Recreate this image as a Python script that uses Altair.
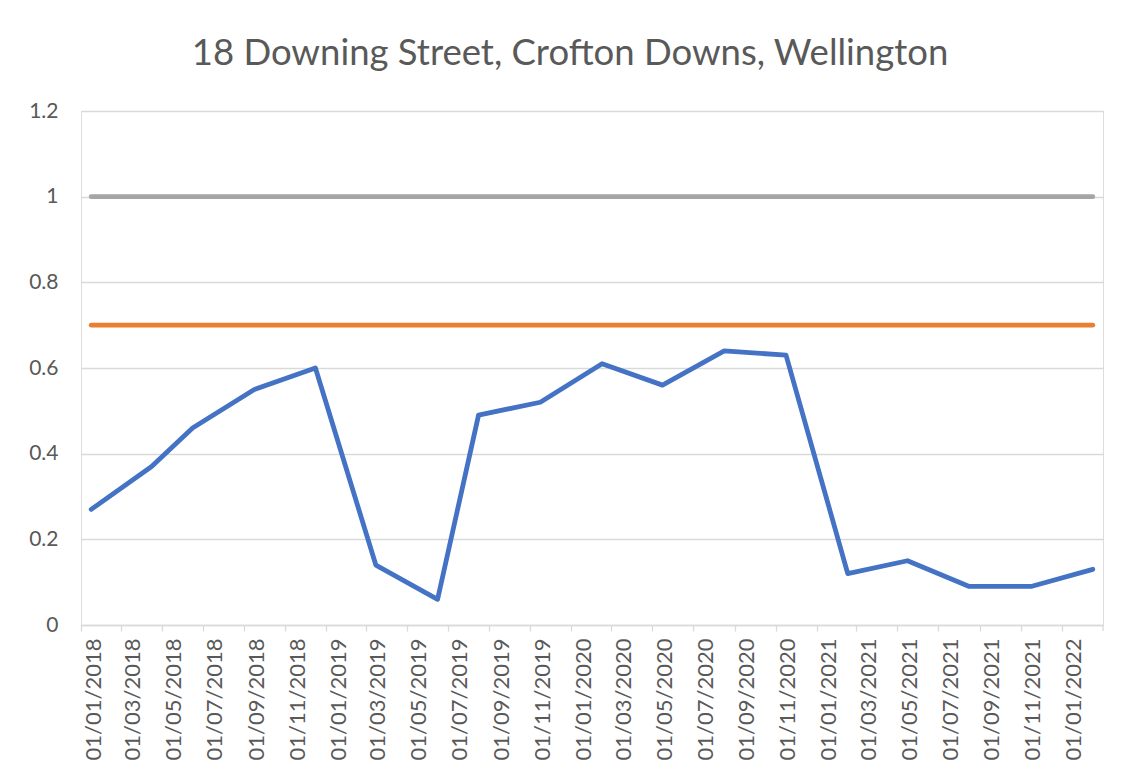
import altair as alt
import pandas as pd

# ---- data ----
dates = ["2018-01-01", "2018-04-01", "2018-06-01", "2018-09-01", "2018-12-01",
         "2019-03-01", "2019-06-01", "2019-08-01", "2019-11-01", "2020-02-01",
         "2020-05-01", "2020-08-01", "2020-11-01", "2021-02-01", "2021-05-01",
         "2021-08-01", "2021-11-01", "2022-02-01"]
measured = [0.27, 0.37, 0.46, 0.55, 0.60, 0.14, 0.06, 0.49, 0.52, 0.61,
            0.56, 0.64, 0.63, 0.12, 0.15, 0.09, 0.09, 0.13]
lower_limit = [0.7] * len(dates)
upper_limit = [1.0] * len(dates)

series_names = ["Upper", "Lower", "Measured"]
series_colors = ["#A5A5A5", "#ED7D31", "#4472C4"]

tick_dates = [(y, m) for y in range(2018, 2022) for m in (1, 3, 5, 7, 9, 11)] + [(2022, 1)]
y_ticks = [0, 0.2, 0.4, 0.6, 0.8, 1.0, 1.2]

rows = []
for name, vals in zip(series_names, [upper_limit, lower_limit, measured]):
    for d, v in zip(dates, vals):
        rows.append({"date": d + "T00:00:00", "value": v, "series": name})
df = pd.DataFrame(rows)

W, H = 1022, 514
label_color = "#595959"
grid_color = "#D9D9D9"
FONT = "Lato"

x_scale = alt.Scale(domain=[alt.DateTime(year=2017, month=12, date=16, hours=19),
                            alt.DateTime(year=2022, month=2, date=16, hours=5)])

lines = alt.Chart(df).mark_line(strokeWidth=4.8, strokeCap="round", strokeJoin="round").encode(
    x=alt.X("date:T", scale=x_scale, title=None,
            axis=alt.Axis(values=[alt.DateTime(year=y, month=m, date=1) for y, m in tick_dates],
                          format="%d/%m/%Y", labelAngle=-90, labelAlign="right",
                          labelBaseline="middle", labelColor=label_color, labelFont=FONT,
                          labelFontSize=22, labelPadding=7, tickOffset=-10.2, labelOffset=12,
                          tickColor=grid_color, tickSize=6, tickWidth=1.3,
                          domainColor=grid_color, domainWidth=1.3, grid=False,
                          labelOverlap=False, labelFlush=False)),
    y=alt.Y("value:Q", scale=alt.Scale(domain=[0, 1.2], nice=False), title=None,
            axis=alt.Axis(values=y_ticks, format="~g", domain=False, ticks=False,
                          gridColor=grid_color, gridWidth=1.3, labelColor=label_color,
                          labelFont=FONT, labelFontSize=21, labelPadding=23)),
    color=alt.Color("series:N", scale=alt.Scale(domain=series_names, range=series_colors),
                    legend=None),
    order=alt.Order("series:N"),
    detail="series:N",
)

end_tick = alt.Chart(pd.DataFrame({"k": [0]})).mark_rule(color=grid_color, strokeWidth=1.3).encode(
    x=alt.value(W), y=alt.value(H), y2=alt.value(H + 6))

chart = alt.layer(lines, end_tick).properties(
    width=W, height=H,
    title=alt.TitleParams("18 Downing Street, Crofton Downs, Wellington", font=FONT,
                          fontSize=36.5, fontWeight="normal", color=label_color,
                          anchor="middle", dx=-22, offset=28),
    autosize=alt.AutoSizeParams(type="none"),
    padding={"left": 73, "top": 103, "right": 18, "bottom": 140},
).configure_view(stroke=None).configure(background="white")

chart.save("out.html", embed_options={"renderer": "svg", "actions": False})
